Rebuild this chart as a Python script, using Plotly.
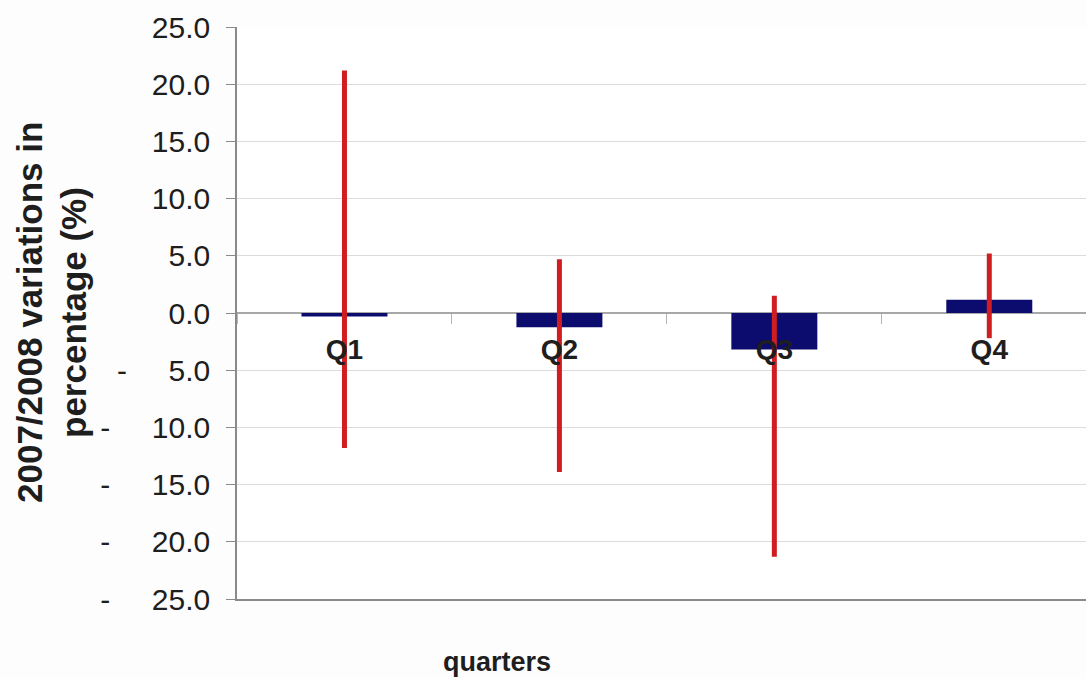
import plotly.graph_objects as go

# Quarterly 2007/2008 variations (%): mean bar plus high-low range
quarters = ["Q1", "Q2", "Q3", "Q4"]
mean_change = [-0.3, -1.25, -3.2, 1.15]
range_high = [21.2, 4.7, 1.5, 5.2]
range_low = [-11.8, -13.9, -21.3, -2.2]

y_ticks = [25, 20, 15, 10, 5, 0, -5, -10, -15, -20, -25]
NB = "\u00a0"
y_ticktext = [f"{v:.1f}" if v >= 0 else "-" + NB * 5 + f"{abs(v):.1f}" for v in y_ticks]

NAVY = "#0c0c6e"
RED = "#cf1d22"
GREY = "#8a8a8a"
FONT = "Liberation Sans, Arial, sans-serif"

fig = go.Figure()

# high-low lines, one segment per quarter
hx, hy = [], []
for q, lo, hi in zip(quarters, range_low, range_high):
    hx += [q, q, None]
    hy += [lo, hi, None]
fig.add_trace(go.Scatter(
    x=hx, y=hy, mode="lines",
    line=dict(color=RED, width=5),
    hoverinfo="skip", showlegend=False,
))

fig.add_trace(go.Bar(
    x=quarters, y=mean_change, width=0.4,
    marker=dict(color=NAVY, line=dict(width=0)),
    hoverinfo="skip", showlegend=False,
))

# category axis that crosses at zero
fig.add_trace(go.Scatter(
    x=quarters, y=[0] * len(quarters), mode="markers",
    marker=dict(opacity=0), xaxis="x2",
    hoverinfo="skip", showlegend=False,
))

fig.update_layout(
    width=1086, height=679,
    margin=dict(l=237, r=0, t=27, b=80),
    paper_bgcolor="#fdfdfd", plot_bgcolor="#ffffff",
    font=dict(family=FONT, color="#1e1e1e"),
    xaxis=dict(
        type="category", categoryorder="array", categoryarray=quarters,
        range=[-0.5, 3.45], showticklabels=False, ticks="",
        showgrid=False, zeroline=False,
        showline=True, linecolor=GREY, linewidth=1.5,
    ),
    xaxis2=dict(
        type="category", categoryorder="array", categoryarray=quarters,
        overlaying="x", anchor="free", position=0.5,
        range=[-0.5, 3.45], showgrid=False, zeroline=False, showline=False,
        tickson="boundaries", ticks="outside", ticklen=10, tickcolor="#b5b5b5",
        tickfont=dict(family=FONT, size=28, color="#1e1e1e", weight="bold"),
        ticklabelstandoff=17,
    ),
    yaxis=dict(
        range=[-25, 25], tickvals=y_ticks, ticktext=y_ticktext,
        tickfont=dict(family=FONT, size=30, color="#1e1e1e"),
        ticks="outside", ticklen=9, tickcolor=GREY,
        ticklabelstandoff=10,
        showgrid=True, gridcolor="#dcdcdc", gridwidth=1,
        zeroline=True, zerolinecolor="#a8a8a8", zerolinewidth=1.5,
        showline=True, linecolor=GREY, linewidth=1.5,
    ),
    bargap=0.6,
    annotations=[
        dict(text="<b>2007/2008 variations in</b>", textangle=-90,
             xref="paper", yref="paper", x=0, y=0.5, xshift=-208,
             xanchor="center", yanchor="middle", showarrow=False,
             font=dict(family=FONT, size=35, color="#1e1e1e")),
        dict(text="<b>percentage (%)</b>", textangle=-90,
             xref="paper", yref="paper", x=0, y=0.5, xshift=-164,
             xanchor="center", yanchor="middle", showarrow=False,
             font=dict(family=FONT, size=35, color="#1e1e1e")),
        dict(text="<b>quarters</b>",
             xref="paper", yref="paper", x=(497 - 237) / 849, y=0, yshift=-63,
             xanchor="center", yanchor="middle", showarrow=False,
             font=dict(family=FONT, size=27, color="#1e1e1e")),
    ],
)

fig.write_html("out.html")
